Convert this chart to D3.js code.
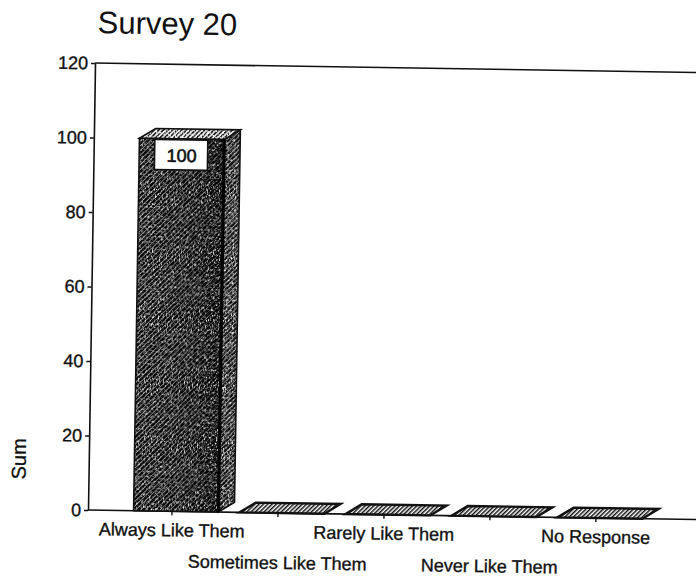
<!DOCTYPE html>
<html>
<head>
<meta charset="utf-8">
<script src="https://cdn.jsdelivr.net/npm/d3@7"></script>
<style>
  html, body { margin: 0; padding: 0; background: #fff; }
  svg { display: block; }
  text { font-family: "Liberation Sans", Arial, sans-serif; fill: #111; }
</style>
</head>
<body>
<svg id="chart" width="696" height="581"></svg>
<script>
// Survey 20 responses
const categories = ["Always Like Them", "Sometimes Like Them", "Rarely Like Them", "Never Like Them", "No Response"];
const sums = [100, 0, 0, 0, 0];
const yTicks = [0, 20, 40, 60, 80, 100, 120];
const titleText = "Survey 20";
const yTitle = "Sum";

const svg = d3.select("#chart");
const defs = svg.append("defs");

// hatched fills for the 3D column faces
function hatch(id, bg, line, w, size) {
  const p = defs.append("pattern").attr("id", id)
    .attr("patternUnits", "userSpaceOnUse")
    .attr("width", size).attr("height", size)
    .attr("patternTransform", "rotate(45)");
  p.append("rect").attr("width", size).attr("height", size).attr("fill", bg);
  p.append("rect").attr("x", 0).attr("y", 0).attr("width", w).attr("height", size).attr("fill", line);
}
hatch("hFront", "#080808", "#9a9a9a", 0.8, 3.4);
hatch("hSide", "#0c0c0c", "#8c8c8c", 0.9, 3.2);
hatch("hTop", "#eeeeee", "#1a1a1a", 1.7, 3.2);
hatch("hFlat", "#ffffff", "#111", 1.5, 3);

// grain overlay: speckled light dots
function grainFilter(id, seed, k, b) {
  const f = defs.append("filter").attr("id", id)
    .attr("x", 0).attr("y", 0).attr("width", 1).attr("height", 1);
  f.append("feTurbulence").attr("type", "fractalNoise")
    .attr("baseFrequency", "0.85 0.4").attr("numOctaves", 2).attr("seed", seed).attr("result", "n");
  f.append("feColorMatrix").attr("in", "n").attr("type", "matrix")
    .attr("values", `0 0 0 0 1  0 0 0 0 1  0 0 0 0 1  ${k} 0 0 0 ${b}`).attr("result", "w");
  f.append("feComposite").attr("in", "w").attr("in2", "SourceGraphic").attr("operator", "in");
}
grainFilter("grain", 7, 3.6, -1.85);
grainFilter("grainSide", 11, 3.8, -1.9);
grainFilter("grainDark", 3, -4.5, 2.3);

const shade = defs.append("linearGradient").attr("id", "shade")
  .attr("x1", 0).attr("x2", 1).attr("y1", 0).attr("y2", 0);
shade.append("stop").attr("offset", "0").attr("stop-color", "#000").attr("stop-opacity", 0);
shade.append("stop").attr("offset", "0.5").attr("stop-color", "#000").attr("stop-opacity", 0.25);
shade.append("stop").attr("offset", "1").attr("stop-color", "#000").attr("stop-opacity", 0.65);

// the whole page sits slightly skewed on the sheet
const origin = [88, 510];
const g = svg.append("g").attr("transform", `rotate(0.9, ${origin[0]}, ${origin[1]})`);

const y = d3.scaleLinear().domain([0, 120]).range([510, 63]);
const x = d3.scaleBand().domain(categories).range([123, 653]).paddingInner(0.2).paddingOuter(0.1);
const bw = x.bandwidth();
const dx = 16, dy = 10;

// title
g.append("text").attr("x", 90).attr("y", 33)
  .attr("font-size", 31).text(titleText);

// y axis title
g.append("text").attr("transform", "translate(25,460) rotate(-90)")
  .attr("text-anchor", "middle").attr("font-size", 20)
  .attr("stroke", "#111").attr("stroke-width", 0.3).text(yTitle);

// frame top line and baseline
g.append("line").attr("x1", 88).attr("x2", 720).attr("y1", y(120)).attr("y2", y(120))
  .attr("stroke", "#111").attr("stroke-width", 1.6);
g.append("line").attr("x1", 88).attr("x2", 720).attr("y1", y(0)).attr("y2", y(0))
  .attr("stroke", "#111").attr("stroke-width", 1.6);

// y axis
const yAxis = g.append("g").attr("transform", "translate(88,0)")
  .call(d3.axisLeft(y).tickValues(yTicks).tickSize(4).tickSizeOuter(0).tickPadding(3));
yAxis.select(".domain").attr("stroke", "#111").attr("stroke-width", 1.6);
yAxis.selectAll(".tick line").attr("stroke", "#111").attr("stroke-width", 1.4);
yAxis.selectAll(".tick text").attr("font-size", 18).attr("fill", "#111")
  .attr("font-family", "'Liberation Sans', Arial, sans-serif")
  .attr("stroke", "#111").attr("stroke-width", 0.35);

// columns
const bars = g.append("g");
const pts = p => p.map(q => q.join(",")).join(" ");
categories.forEach((c, i) => {
  const v = sums[i];
  const x0 = x(c), x1 = x0 + bw;
  const yt = y(v), yb = y(0);
  const bar = bars.append("g");
  if (v > 0) {
    const front = [[x0, yt], [x1, yt], [x1, yb], [x0, yb]];
    const side = [[x1, yt], [x1 + dx, yt - dy], [x1 + dx, yb - dy], [x1, yb]];
    const top = [[x0, yt], [x0 + dx, yt - dy], [x1 + dx, yt - dy], [x1, yt]];
    bar.append("polygon").attr("points", pts(front)).attr("fill", "url(#hFront)");
    bar.append("polygon").attr("points", pts(front)).attr("fill", "url(#shade)");
    bar.append("polygon").attr("points", pts(front)).attr("fill", "#000").attr("filter", "url(#grain)");
    bar.append("polygon").attr("points", pts(side)).attr("fill", "url(#hSide)");
    bar.append("polygon").attr("points", pts(side)).attr("fill", "#000").attr("filter", "url(#grainSide)");
    bar.append("polygon").attr("points", pts(top)).attr("fill", "url(#hTop)");
    bar.append("polygon").attr("points", pts(top)).attr("fill", "#000").attr("filter", "url(#grainDark)");
    [front, side, top].forEach(p => bar.append("polygon").attr("points", pts(p))
      .attr("fill", "none").attr("stroke", "#111").attr("stroke-width", 1.6));
    // heavy edge between front and side faces
    bar.append("line").attr("x1", x1).attr("x2", x1).attr("y1", yt).attr("y2", yb)
      .attr("stroke", "#000").attr("stroke-width", 3.2);
    // value label box
    const cx = x0 + bw / 2;
    bar.append("rect").attr("x", cx - 27).attr("y", yt + 1).attr("width", 53).attr("height", 30)
      .attr("fill", "#fff").attr("stroke", "#111").attr("stroke-width", 1.6);
    bar.append("text").attr("x", cx).attr("y", yt + 23).attr("text-anchor", "middle")
      .attr("font-size", 18).attr("stroke", "#111").attr("stroke-width", 0.6).text(v);
  } else {
    const flat = [[x0, yb], [x0 + dx, yb - dy], [x1 + dx, yb - dy], [x1, yb]];
    bar.append("polygon").attr("points", pts(flat))
      .attr("fill", "url(#hFlat)").attr("stroke", "#111").attr("stroke-width", 2.4);
  }
});

// category ticks and alternating labels
const tickX = c => x(c) + bw / 2 - 4;
categories.forEach((c, i) => {
  g.append("line").attr("x1", tickX(c)).attr("x2", tickX(c))
    .attr("y1", y(0)).attr("y2", y(0) + 4).attr("stroke", "#111").attr("stroke-width", 1.4);
  g.append("text").attr("x", tickX(c)).attr("y", i % 2 === 0 ? 535 : 566)
    .attr("text-anchor", "middle").attr("font-size", 18)
    .attr("stroke", "#111").attr("stroke-width", 0.35)
    .text(c);
});
</script>
</body>
</html>
